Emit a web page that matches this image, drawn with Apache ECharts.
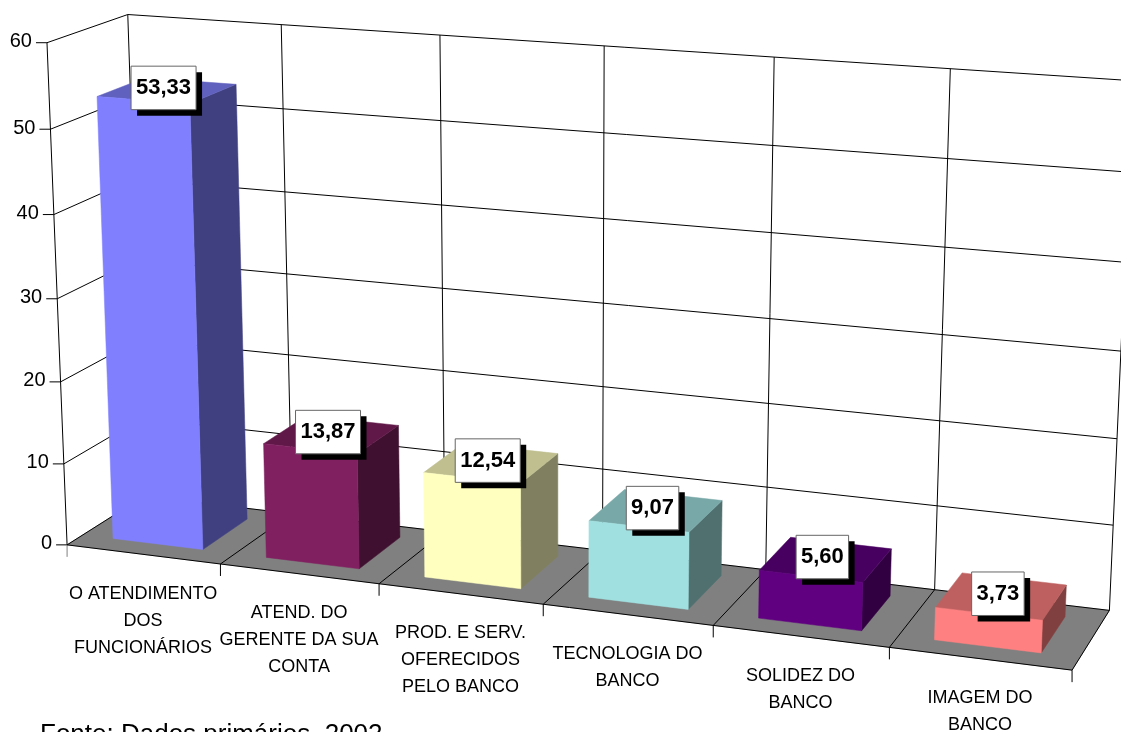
<!DOCTYPE html>
<html>
<head>
<meta charset="utf-8">
<style>html,body{margin:0;padding:0;background:#fff;overflow:hidden}#c{width:1121px;height:732px}</style>
<script src="https://cdn.jsdelivr.net/npm/echarts@6/dist/echarts.min.js"></script>
</head>
<body>
<div id="c"></div>
<script>
// ---- data ----
const categories = [
  'O ATENDIMENTO\nDOS\nFUNCIONÁRIOS',
  'ATEND. DO\nGERENTE DA SUA\nCONTA',
  'PROD. E SERV.\nOFERECIDOS\nPELO BANCO',
  'TECNOLOGIA DO\nBANCO',
  'SOLIDEZ DO\nBANCO',
  'IMAGEM DO\nBANCO'
];
const values = [53.33, 13.87, 12.54, 9.07, 5.60, 3.73];
const valueTicks = [0, 10, 20, 30, 40, 50, 60];
const frontColors = ['#8080FF', '#802060', '#FFFFC0', '#A0E0E0', '#600080', '#FF8080'];
const sourceNote = 'Fonte: Dados primários, 2002';

// ---- view: camera calibration (axis cat, axis value, depth) -> screen ----
const calibration = [
  [0,0,0, 67.5,545.5],[1,0,0,219.3,564],[2,0,0,379,584],[3,0,0,544,604],[4,0,0,714,625],[5,0,0,888,647],[6,0,0,1072.7,670],
  [0,60,0, 47,43],[0,50,0,50.3,129],[0,10,0,64,464],
  [0,0,1, 144,496],[6,0,1,1109.3,610.7],
  [0,60,1,128.3,14.5],[1,60,1,281,24],[5,60,1,949,69],[6,60,1,1134,81]
];
const BAR_U = [0.2, 0.79], BAR_W = [0.2, 0.81];

function solveCamera(rows) {
  const n = 11, A = [], b = [];
  for (let i = 0; i < n; i++) { A.push(new Array(n).fill(0)); b.push(0); }
  function add(r, t) {
    for (let i = 0; i < n; i++) { b[i] += r[i] * t; for (let j = 0; j < n; j++) A[i][j] += r[i] * r[j]; }
  }
  rows.forEach(([c, v, w, X, Y]) => {
    const u = c / 6, t = v / 60;
    add([u, t, w, 1, 0, 0, 0, 0, -u * X, -t * X, -w * X], X);
    add([0, 0, 0, 0, u, t, w, 1, -u * Y, -t * Y, -w * Y], Y);
  });
  for (let i = 0; i < n; i++) {
    let p = i;
    for (let k = i + 1; k < n; k++) if (Math.abs(A[k][i]) > Math.abs(A[p][i])) p = k;
    [A[i], A[p]] = [A[p], A[i]]; [b[i], b[p]] = [b[p], b[i]];
    for (let k = i + 1; k < n; k++) {
      const f = A[k][i] / A[i][i];
      for (let j = i; j < n; j++) A[k][j] -= f * A[i][j];
      b[k] -= f * b[i];
    }
  }
  const x = new Array(n).fill(0);
  for (let i = n - 1; i >= 0; i--) {
    let s = b[i];
    for (let j = i + 1; j < n; j++) s -= A[i][j] * x[j];
    x[i] = s / A[i][i];
  }
  return x;
}
const cam = solveCamera(calibration);

// Project through the library's (hidden) scales: api.coord -> unit box -> perspective
function P(api, cat, val, w) {
  const c = api.coord([cat, val]);
  const u = c[0] / api.getWidth(), t = 1 - c[1] / api.getHeight();
  const d = cam[8] * u + cam[9] * t + cam[10] * w + 1;
  return [(cam[0] * u + cam[1] * t + cam[2] * w + cam[3]) / d,
          (cam[4] * u + cam[5] * t + cam[6] * w + cam[7]) / d];
}
function shade(hex, k) {
  const n = parseInt(hex.slice(1), 16);
  const f = s => Math.round(((n >> s) & 255) * k);
  return 'rgb(' + f(16) + ',' + f(8) + ',' + f(0) + ')';
}
const line = (a, b, color) => ({ type: 'line', shape: { x1: a[0], y1: a[1], x2: b[0], y2: b[1] },
  style: { stroke: color || '#000', lineWidth: 1, fill: null } });
const poly = (pts, fill) => ({ type: 'polygon', shape: { points: pts }, style: { fill: fill, stroke: fill, lineWidth: 0.5 } });
const FONT = '"Liberation Sans", Arial, sans-serif';
const N = categories.length, VMAX = valueTicks[valueTicks.length - 1];

function renderFrame(params, api) {
  const ch = [];
  ch.push(poly([P(api,0,0,0), P(api,N,0,0), P(api,N,0,1), P(api,0,0,1)], '#808080'));
  valueTicks.forEach(v => {
    const a = P(api,0,v,0), b = P(api,0,v,1), c = P(api,N,v,1);
    if (v > 0) ch.push(line(a, b));
    ch.push(line(b, c));
    ch.push(line([a[0] - 11, a[1]], a));
    ch.push({ type: 'text', style: { x: a[0] - 15, y: a[1] - 1, text: String(v), fill: '#000',
      font: '20px ' + FONT, align: 'right', verticalAlign: 'middle' } });
  });
  ch.push(line(P(api,0,0,0), P(api,0,VMAX,0)));
  for (let i = 0; i <= N; i++) {
    const f = P(api,i,0,0), b = P(api,i,0,1), t = P(api,i,VMAX,1);
    ch.push(line(f, b));
    ch.push(line(b, t));
    ch.push(line(f, [f[0], f[1] + 12], i === 0 ? '#808080' : '#000'));
  }
  ch.push(line(P(api,0,0,0), P(api,N,0,0)));
  categories.forEach((name, i) => {
    const m = P(api, i + 0.5, 0, 0);
    ch.push({ type: 'text', style: { x: m[0], y: m[1] + 26, text: name, fill: '#000',
      font: '18px ' + FONT, lineHeight: 27, align: 'center', verticalAlign: 'top' } });
  });
  ch.push({ type: 'text', style: { x: 40, y: 722, text: sourceNote, fill: '#000',
    font: '26px ' + FONT, align: 'left', verticalAlign: 'top' } });
  return { type: 'group', children: ch };
}

function renderBar(params, api) {
  const i = api.value(0), v = api.value(1), col = frontColors[params.dataIndex];
  const u0 = i + BAR_U[0], u1 = i + BAR_U[1], w0 = BAR_W[0], w1 = BAR_W[1];
  return { type: 'group', children: [
    poly([P(api,u1,0,w0), P(api,u1,0,w1), P(api,u1,v,w1), P(api,u1,v,w0)], shade(col, 0.5)),
    poly([P(api,u0,v,w0), P(api,u1,v,w0), P(api,u1,v,w1), P(api,u0,v,w1)], shade(col, 0.75)),
    poly([P(api,u0,0,w0), P(api,u1,0,w0), P(api,u1,v,w0), P(api,u0,v,w0)], col)
  ]};
}

function renderLabel(params, api) {
  const i = api.value(0), v = api.value(1);
  const a = P(api, i + BAR_U[0], v, BAR_W[0]), b = P(api, i + BAR_U[1], v, BAR_W[1]);
  const cx = (a[0] + b[0]) / 2 - 3, cy = (a[1] + b[1]) / 2 - 2.5;
  const txt = v.toFixed(2).replace('.', ',');
  const w = v >= 10 ? 65 : 52.5, h = 43.5;
  return { type: 'group', children: [
    { type: 'rect', shape: { x: cx - w / 2 + 6, y: cy - h / 2 + 6, width: w, height: h }, style: { fill: '#000' } },
    { type: 'rect', shape: { x: cx - w / 2, y: cy - h / 2, width: w, height: h }, style: { fill: '#fff', stroke: '#666', lineWidth: 1 } },
    { type: 'text', style: { x: cx, y: cy, text: txt, fill: '#000', font: 'bold 22px ' + FONT, align: 'center', verticalAlign: 'middle' } }
  ]};
}

const pairs = values.map((v, i) => [i, v]);
const chart = echarts.init(document.getElementById('c'), null, { renderer: 'canvas' });
chart.setOption({
  animation: false,
  backgroundColor: '#fff',
  grid: { left: 0, right: 0, top: 0, bottom: 0 },
  xAxis: { type: 'value', min: 0, max: N, interval: 1, show: false },
  yAxis: { type: 'value', min: 0, max: VMAX, interval: 10, show: false },
  series: [
    { type: 'custom', coordinateSystem: 'cartesian2d', data: [[0, 0]], renderItem: renderFrame, z: 1, clip: false, silent: true },
    { type: 'custom', coordinateSystem: 'cartesian2d', data: pairs, renderItem: renderBar, z: 2, clip: false, silent: true },
    { type: 'custom', coordinateSystem: 'cartesian2d', data: pairs, renderItem: renderLabel, z: 3, clip: false, silent: true }
  ]
});
</script>
</body>
</html>
